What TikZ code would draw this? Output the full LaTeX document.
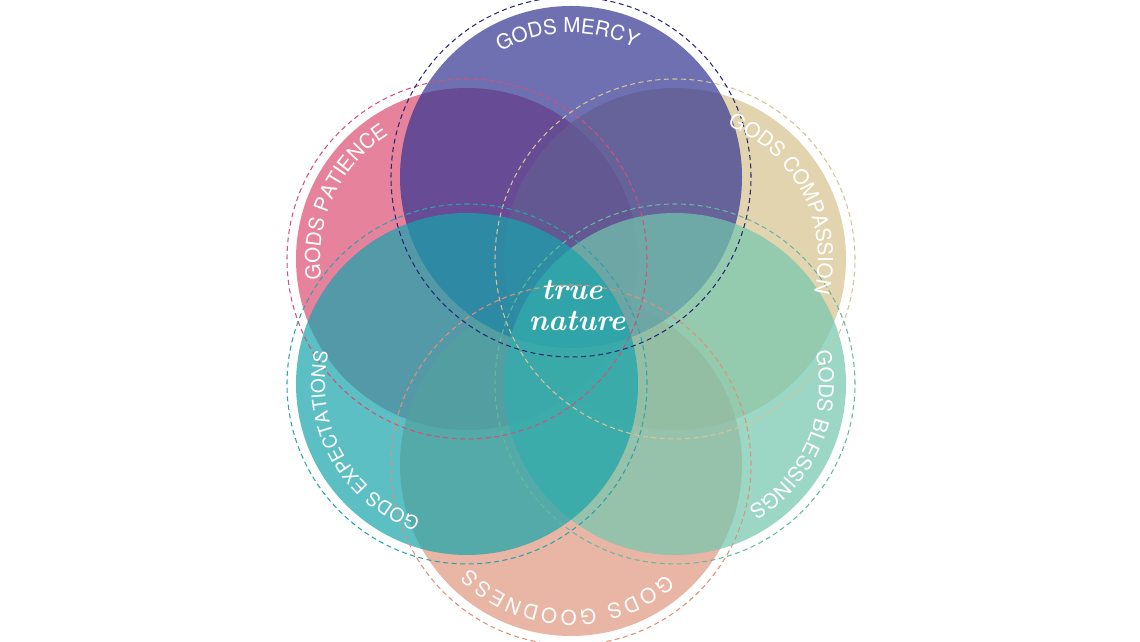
\documentclass[tikz,border=0pt]{standalone}
\usepackage{fontspec}
\newfontfamily\lblfont{TeX Gyre Heros}
\usetikzlibrary{decorations.text}
\newcommand{\scriptfnt}{\rmfamily\bfseries\itshape}
\newcommand{\lbl}[1]{\lblfont\fontsize{#1}{#1}\selectfont}
\definecolor{cMer}{RGB}{49,52,146}
\definecolor{cPat}{RGB}{221,78,115}
\definecolor{cCom}{RGB}{214,194,142}
\definecolor{cBle}{RGB}{115,199,174}
\definecolor{cExp}{RGB}{22,164,172}
\definecolor{cGoo}{RGB}{224,151,128}
\definecolor{dMer}{RGB}{38,40,115}
\definecolor{dPat}{RGB}{212,80,120}
\definecolor{dCom}{RGB}{212,196,150}
\definecolor{dBle}{RGB}{100,185,160}
\definecolor{dExp}{RGB}{40,165,170}
\definecolor{dGoo}{RGB}{222,145,120}
\begin{document}
\begin{tikzpicture}[x=1pt,y=1pt,
  disc/.style={fill opacity=0.7},
  ring/.style={dash pattern=on 5pt off 3.5pt, line width=1.05pt},
  arclabel/.style={decorate, decoration={text along path, text color=white, text align={center}}},
  arclabelfit/.style={decorate, decoration={text along path, text color=white, text align={fit to path}}},
  scripttext/.style={text=white, anchor=base, inner sep=0pt, font=\scriptfnt\fontsize{30}{30}\selectfont}]
\fill[white] (0,0) rectangle (1140,642);
\useasboundingbox (0,0) rectangle (1140,642);
\coordinate (pat) at (467,383);
\coordinate (com) at (675,383);
\coordinate (goo) at (571,177);
\coordinate (mer) at (571,465);
\coordinate (ble) at (675,258);
\coordinate (exp) at (467,258);
% filled discs, bottom to top
\fill[cPat, disc] (pat) circle[radius=171];
\fill[cCom, disc] (com) circle[radius=171];
\fill[cGoo, disc] (goo) circle[radius=171];
\fill[cMer, disc] (mer) circle[radius=171];
\fill[cBle, disc] (ble) circle[radius=171];
\fill[cExp, disc] (exp) circle[radius=171];
% dashed rings
\draw[dPat, ring] (pat) circle[radius=180];
\draw[dCom, ring] (com) circle[radius=180];
\draw[dGoo, ring] (goo) circle[radius=180];
\draw[dMer, ring] (mer) circle[radius=180];
\draw[dBle, ring] (ble) circle[radius=180];
\draw[dExp, ring] (exp) circle[radius=180];
% labels along arcs (centred on the measured middle angle)
\path[arclabel, decoration={text={|\lbl{20.5}|GODS MERCY}}]
  (mer) ++(126.5:144) arc[start angle=126.5, end angle=56.5, radius=144];
\path[arclabel, decoration={text={|\lbl{20.5}|GODS PATIENCE}}]
  (pat) ++(195:147) arc[start angle=195, end angle=115, radius=147];
\path[arclabel, decoration={text={|\lbl{20.5}|GODS COMPASSION}}]
  (com) ++(75:143) arc[start angle=75, end angle=-20, radius=143];
\path[arclabel, decoration={text={|\lbl{20.5}|GODS BLESSINGS}}]
  (ble) ++(20:144) arc[start angle=20, end angle=-66.5, radius=144];
\path[arclabelfit, decoration={text={|\lbl{20.5}|GODS GOODNESS}}]
  (goo) ++(-49:145) arc[start angle=-49, end angle=-134.5, radius=145];
\path[arclabel, decoration={text={|\lbl{19}|GODS EXPECTATIONS}}]
  (exp) ++(258:142) arc[start angle=258, end angle=160, radius=142];
% centre text
\node[scripttext] (tn1) at (572,342) {true};
\node[scripttext] (tn2) at (577,311) {nature};
\end{tikzpicture}
\end{document}
